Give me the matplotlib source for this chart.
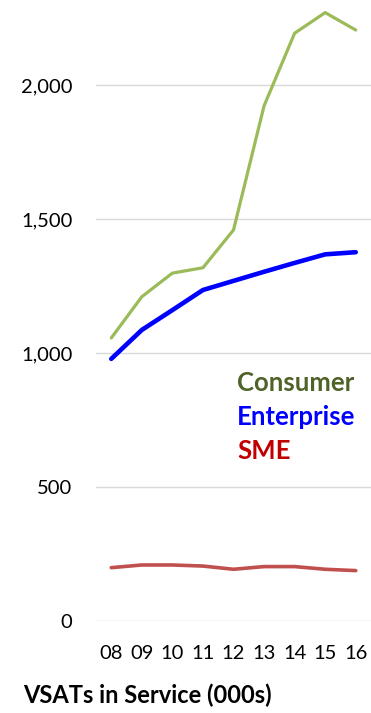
import matplotlib.pyplot as plt

years = ["08", "09", "10", "11", "12", "13", "14", "15", "16"]
consumer = [1056, 1210, 1298, 1318, 1459, 1922, 2193, 2270, 2205]
enterprise = [978, 1086, 1160, 1235, 1269, 1303, 1336, 1368, 1376]
sme = [199, 209, 209, 205, 193, 203, 203, 193, 188]

plt.rcParams['font.family'] = ['Lato', 'DejaVu Sans']

fig = plt.figure(figsize=(3.71, 7.13), dpi=100)
ax = fig.add_axes([96 / 371, 1 - 621 / 713, 1 - 96 / 371, 621 / 713])

x = range(len(years))
ax.plot(x, consumer, color='#9BBB59', lw=2.3, solid_capstyle='round', clip_on=False)
ax.plot(x, enterprise, color='#0000FF', lw=3.3, solid_capstyle='round', clip_on=False)
ax.plot(x, sme, color='#C0504D', lw=2.6, solid_capstyle='round', clip_on=False)

ax.set_xlim(-0.5, 8.5)
ax.set_ylim(0, 2317)
ax.set_yticks([0, 500, 1000, 1500, 2000])
ax.set_yticklabels(["0", "500", "1,000", "1,500", "2,000"])
ax.set_xticks(list(x))
ax.set_xticklabels(years)
ax.tick_params(length=0, labelsize=14.5, colors='#000000')
ax.tick_params(axis='y', pad=17)
ax.tick_params(axis='x', pad=17)
ax.grid(axis='y', color='#D9D9D9', lw=1)
ax.set_axisbelow(True)
for s in ax.spines.values():
    s.set_visible(False)

# series names as coloured text instead of a legend box
labels = [("Consumer", '#4F6228', 383), ("Enterprise", '#0000FF', 417), ("SME", '#C00000', 451)]
for name, col, ypx in labels:
    fig.text(237 / 371, 1 - ypx / 713, name, fontsize=18.5, fontweight='bold',
             color=col, va='center', ha='left')

fig.text(23 / 371, 1 - 695 / 713, "VSATs in Service (000s)", fontsize=17,
         fontweight='bold', va='center', ha='left')

fig.savefig("out.png", dpi=100)
